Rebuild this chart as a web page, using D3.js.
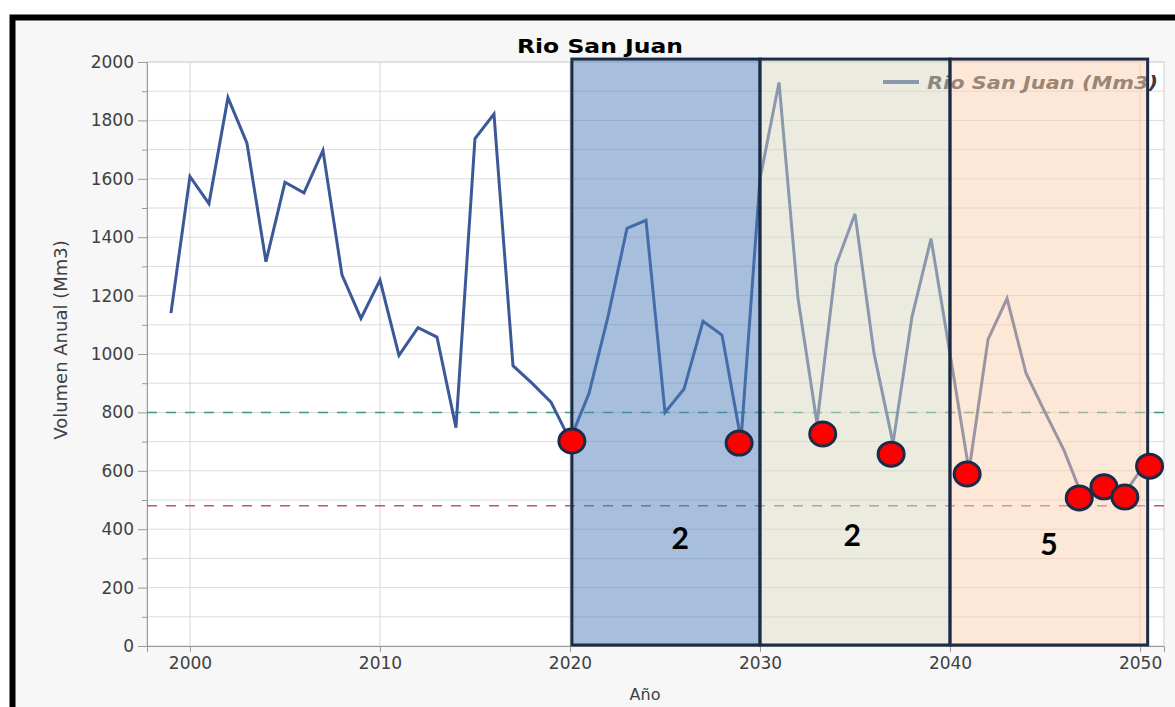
<!DOCTYPE html>
<html>
<head>
<meta charset="utf-8">
<script src="https://cdn.jsdelivr.net/npm/d3@7"></script>
<style>
    body { margin: 0; background: #fff; }
    text { font-family: "DejaVu Sans", sans-serif; }
</style>
</head>
<body>
<script>
// dimensions
const width = 1175;
const height = 707;

const margin = { top: 62, right: 1164, bottom: 646, left: 147 };

// annual volume (Mm3)
const years = [1999, 2000, 2001, 2002, 2003, 2004, 2005, 2006, 2007, 2008, 2009,
    2010, 2011, 2012, 2013, 2014, 2015, 2016, 2017, 2018, 2019,
    2020, 2021, 2022, 2023, 2024, 2025, 2026, 2027, 2028, 2029,
    2030, 2031, 2032, 2033, 2034, 2035, 2036, 2037, 2038, 2039,
    2040, 2041, 2042, 2043, 2044, 2045, 2046, 2047, 2048, 2049, 2050];
const volumes = [1140, 1608, 1515, 1878, 1722, 1316, 1588, 1552, 1697, 1271, 1122,
    1253, 995, 1090, 1058, 748, 1738, 1822, 960, 900, 835,
    705, 865, 1128, 1430, 1458, 800, 880, 1112, 1065, 705,
    1600, 1930, 1190, 762, 1305, 1480, 1002, 694, 1128, 1395,
    1000, 600, 1050, 1190, 934, 800, 670, 505, 540, 505, 600];

// reference thresholds
const thresholds = [800, 480];
const thresholdColors = ["#3f9a7a", "#c25470"];

// highlighted decades
const periodStart = [2020.1, 2030, 2040];
const periodEnd = [2030, 2040, 2050.4];
const periodFill = ["#4f7fbc", "#d9d7c1", "#fbcfad"];
const periodCount = ["2", "2", "5"];
const countYear = [2025.8, 2034.85, 2045.2];
const countValue = [373, 383, 352];

// red markers (years below the green threshold)
const markYears = [2020.1, 2028.9, 2033.3, 2036.9, 2040.9, 2046.8, 2048.1, 2049.2, 2050.5];
const markValues = [702, 695, 726, 657, 589, 507, 545, 510, 616];

const xTicks = [2000, 2010, 2020, 2030, 2040, 2050];

let svg = d3.select("body")
    .append("svg")
    .attr("width", width)
    .attr("height", height);

// black frame round the grey panel
svg.append("rect")
    .attr("x", 12.5).attr("y", 17.5)
    .attr("width", width + 20).attr("height", height + 20)
    .attr("fill", "#f7f7f7")
    .attr("stroke", "#000")
    .attr("stroke-width", 6);

let x = d3.scaleLinear()
    .domain([1997.74, 2051.26])
    .range([margin.left, margin.right]);
let y = d3.scaleLinear()
    .domain([0, 2000])
    .range([margin.bottom, margin.top]);

// plot area
svg.append("rect")
    .attr("x", margin.left).attr("y", margin.top)
    .attr("width", margin.right - margin.left)
    .attr("height", margin.bottom - margin.top)
    .attr("fill", "#fff")
    .attr("stroke", "#cfcfcf");

// grid
svg.append("g")
    .selectAll("line")
    .data(d3.range(100, 2001, 100))
    .enter().append("line")
    .attr("x1", margin.left).attr("x2", margin.right)
    .attr("y1", d => y(d)).attr("y2", d => y(d))
    .attr("stroke", "#dcdcdc");
svg.append("g")
    .selectAll("line")
    .data(xTicks)
    .enter().append("line")
    .attr("x1", d => x(d)).attr("x2", d => x(d))
    .attr("y1", margin.top).attr("y2", margin.bottom)
    .attr("stroke", "#d6d6d6");

// axes
svg.append("g")
    .attr("transform", "translate(" + margin.left + ",0)")
    .call(d3.axisLeft(y).tickValues(d3.range(0, 2001, 200)).tickFormat(d3.format("d")).tickSize(9).tickPadding(4));
svg.append("g")
    .attr("transform", "translate(" + margin.left + ",0)")
    .call(d3.axisLeft(y).tickValues(d3.range(100, 2000, 200)).tickSize(5).tickFormat(""))
    .select(".domain").remove();
svg.append("g")
    .attr("transform", "translate(0," + margin.bottom + ")")
    .call(d3.axisBottom(x).tickValues(xTicks).tickFormat(d3.format("d")).tickSize(6).tickPadding(5));

svg.selectAll(".domain, .tick line").attr("stroke", "#9a9a9a");
svg.selectAll(".tick text")
    .attr("fill", "#404040")
    .style("font-size", "17px")
    .style("font-family", "DejaVu Sans, sans-serif");

// threshold lines
svg.append("g")
    .selectAll("line")
    .data(thresholds)
    .enter().append("line")
    .attr("x1", margin.left).attr("x2", margin.right)
    .attr("y1", d => y(d)).attr("y2", d => y(d))
    .attr("stroke", (d, i) => thresholdColors[i])
    .attr("stroke-width", 1.5)
    .attr("stroke-dasharray", "10,9");

// the series
let series = years.map((d, i) => ({ year: d, value: volumes[i] }));
svg.append("path")
    .datum(series)
    .attr("fill", "none")
    .attr("stroke", "#3b5998")
    .attr("stroke-width", 3)
    .attr("stroke-linejoin", "miter")
    .attr("d", d3.line().x(d => x(d.year)).y(d => y(d.value)));

// legend
svg.append("line")
    .attr("x1", 883).attr("x2", 919)
    .attr("y1", 82).attr("y2", 82)
    .attr("stroke", "#3b5998")
    .attr("stroke-width", 4);
svg.append("text")
    .attr("x", 927).attr("y", 89)
    .attr("fill", "#3a3a3a")
    .attr("textLength", 231)
    .attr("lengthAdjust", "spacingAndGlyphs")
    .style("font-size", "18px")
    .style("font-style", "italic")
    .style("font-weight", "bold")
    .text("Rio San Juan (Mm3)");

// decade overlays
let periods = periodStart.map((d, i) => ({ start: d, end: periodEnd[i], fill: periodFill[i] }));
svg.append("g")
    .selectAll("rect")
    .data(periods)
    .enter().append("rect")
    .attr("x", d => x(d.start))
    .attr("y", y(2010))
    .attr("width", d => x(d.end) - x(d.start))
    .attr("height", y(0) - y(2010) - 1)
    .attr("fill", d => d.fill)
    .attr("fill-opacity", 0.5)
    .attr("stroke", "#1c2b47")
    .attr("stroke-width", 3);

// markers
svg.append("g")
    .selectAll("ellipse")
    .data(markYears)
    .enter().append("ellipse")
    .attr("cx", d => x(d))
    .attr("cy", (d, i) => y(markValues[i]))
    .attr("rx", 13)
    .attr("ry", 12)
    .attr("fill", "#ff0000")
    .attr("stroke", "#1c2b47")
    .attr("stroke-width", 3);

// counts per decade
svg.append("g")
    .selectAll("text")
    .data(periodCount)
    .enter().append("text")
    .attr("x", (d, i) => x(countYear[i]))
    .attr("y", (d, i) => y(countValue[i]))
    .attr("text-anchor", "middle")
    .attr("dominant-baseline", "central")
    .style("font-family", "Lato, sans-serif")
    .style("font-weight", "bold")
    .style("font-size", "30px")
    .attr("fill", "#000")
    .text(d => d);

// titles
svg.append("text")
    .attr("x", 517).attr("y", 53)
    .attr("textLength", 166)
    .attr("lengthAdjust", "spacingAndGlyphs")
    .style("font-size", "20px")
    .style("font-weight", "bold")
    .attr("fill", "#000")
    .text("Rio San Juan");
svg.append("text")
    .attr("x", 645).attr("y", 700)
    .attr("text-anchor", "middle")
    .style("font-size", "16px")
    .attr("fill", "#404040")
    .text("Año");
svg.append("text")
    .attr("transform", "translate(67,340) rotate(-90)")
    .attr("text-anchor", "middle")
    .style("font-size", "18px")
    .attr("fill", "#404040")
    .text("Volumen Anual (Mm3)");
</script>
</body>
</html>
